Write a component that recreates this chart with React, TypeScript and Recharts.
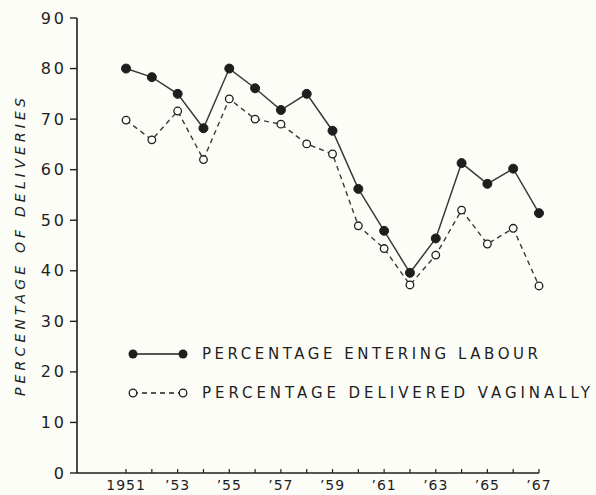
import React from 'react';
import { LineChart, Line, XAxis, YAxis, Legend } from 'recharts';

const years = [1951, 1952, 1953, 1954, 1955, 1956, 1957, 1958, 1959, 1960, 1961, 1962, 1963, 1964, 1965, 1966, 1967];
const enteringLabour = [80, 78.3, 75, 68.2, 80, 76.1, 71.8, 75, 67.7, 56.2, 47.9, 39.6, 46.4, 61.3, 57.2, 60.2, 51.4];
const deliveredVaginally = [69.8, 65.9, 71.6, 62, 74, 70, 69, 65.1, 63.1, 48.9, 44.4, 37.2, 43.1, 52, 45.3, 48.4, 37];
const yTicks = [0, 10, 20, 30, 40, 50, 60, 70, 80, 90];
const xTickLabels: Record<number, string> = {
  1951: '1951', 1953: '\u201953', 1955: '\u201955', 1957: '\u201957', 1959: '\u201959',
  1961: '\u201961', 1963: '\u201963', 1965: '\u201965', 1967: '\u201967',
};
const seriesNames = ['PERCENTAGE ENTERING LABOUR', 'PERCENTAGE DELIVERED VAGINALLY'];
const yAxisTitle = 'PERCENTAGE OF DELIVERIES';

const data = years.map((y, i) => ({ year: y, labour: enteringLabour[i], vaginal: deliveredVaginally[i] }));

const INK = '#1e1e1e';
const FONT = '"DejaVu Sans", sans-serif';

const XTick = (props: any) => {
  const { x, y, payload } = props;
  const label = xTickLabels[payload.value] || '';
  return (
    <g>
      <line x1={x} x2={x} y1={y} y2={y - 4} stroke={INK} strokeWidth={1.2} />
      {label && (
        <text x={x} y={y + 12} textAnchor="middle" dominantBaseline="central" fill={INK}
          style={{ fontFamily: FONT, fontSize: 14, letterSpacing: 1 }}>{label}</text>
      )}
    </g>
  );
};

const YTick = (props: any) => {
  const { x, y, payload } = props;
  return (
    <text x={x} y={y} textAnchor="end" dominantBaseline="central" fill={INK}
      style={{ fontFamily: FONT, fontSize: 16, letterSpacing: 3 }}>{String(payload.value)}</text>
  );
};

const FilledDot = (props: any) => {
  const { cx, cy } = props;
  return <circle cx={cx} cy={cy} r={4.5} fill={INK} stroke={INK} strokeWidth={1} />;
};
const OpenDot = (props: any) => {
  const { cx, cy } = props;
  return <circle cx={cx} cy={cy} r={3.8} fill="#fdfdf8" stroke={INK} strokeWidth={1.3} />;
};

const LegendContent = () => (
  <svg width={480} height={70} style={{ overflow: 'visible' }}>
    <line x1={8} x2={58} y1={19} y2={19} stroke={INK} strokeWidth={1.6} />
    <circle cx={8} cy={19} r={4.5} fill={INK} />
    <circle cx={58} cy={19} r={4.5} fill={INK} />
    <text x={77} y={19} dominantBaseline="central" fill={INK} textLength={336} lengthAdjust="spacing"
      style={{ fontFamily: FONT, fontSize: 15 }}>{seriesNames[0]}</text>
    <line x1={8} x2={58} y1={58} y2={58} stroke={INK} strokeWidth={1.3} strokeDasharray="5 4" />
    <circle cx={8} cy={58} r={3.8} fill="#fdfdf8" stroke={INK} strokeWidth={1.3} />
    <circle cx={58} cy={58} r={3.8} fill="#fdfdf8" stroke={INK} strokeWidth={1.3} />
    <text x={77} y={58} dominantBaseline="central" fill={INK} textLength={388} lengthAdjust="spacing"
      style={{ fontFamily: FONT, fontSize: 15 }}>{seriesNames[1]}</text>
  </svg>
);

export default function App() {
  return (
    <div style={{ position: 'absolute', left: 0, top: 0, width: 596, height: 495, background: '#fdfdf8' }}>
      <LineChart width={596} height={495} data={data} margin={{ top: 18, right: 57, left: 0, bottom: 0 }}>
        <XAxis dataKey="year" type="number" domain={[1949.1, 1967]} ticks={years} interval={0}
          tick={<XTick />} tickLine={false} tickSize={0} tickMargin={0} height={22}
          axisLine={{ stroke: INK, strokeWidth: 1.6 }} />
        <YAxis type="number" domain={[0, 90]} ticks={yTicks} interval={0} width={77}
          tick={<YTick />} tickSize={7} tickMargin={3} tickLine={{ stroke: INK, strokeWidth: 1.4 }}
          axisLine={{ stroke: INK, strokeWidth: 1.6 }}
          label={{
            content: () => (
              <text x={20} y={247} transform="rotate(-90 20 247)" textAnchor="middle" dominantBaseline="central"
                fill={INK} textLength={298} lengthAdjust="spacing"
                style={{ fontFamily: FONT, fontSize: 14, fontStyle: 'italic' }}>{yAxisTitle}</text>
            ),
          }} />
        <Legend content={<LegendContent />} layout="horizontal" verticalAlign="middle" align="center"
          wrapperStyle={{ position: 'absolute', left: 125, top: 335, width: 480, height: 70 }} />
        <Line dataKey="labour" stroke="#3a3a3a" strokeWidth={1.5} dot={<FilledDot />} activeDot={false} isAnimationActive={false} />
        <Line dataKey="vaginal" stroke="#3a3a3a" strokeWidth={1.4} strokeDasharray="5 4" dot={<OpenDot />} activeDot={false} isAnimationActive={false} />
      </LineChart>
    </div>
  );
}
